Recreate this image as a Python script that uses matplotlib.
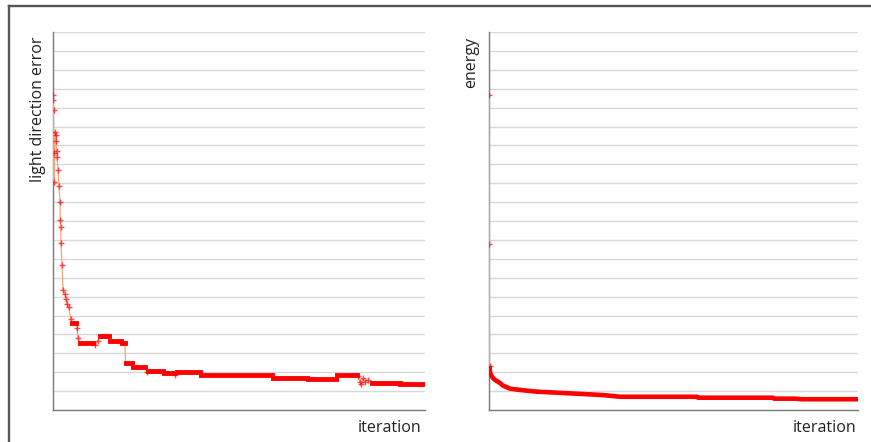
# light direction error / energy vs iteration

import matplotlib.pyplot as plt
from matplotlib.lines import Line2D

plt.rcParams['font.family'] = ['Open Sans', 'DejaVu Sans']

# --- left panel: light direction error ---
# sparse early iterations (iteration, error)
early_it = [0, 1, 2, 3, 4, 8, 12, 13, 14, 16, 20, 24, 28, 29, 31, 32, 36, 40,
            47, 52, 56, 63, 71]
early_err = [16.67, 16.40, 15.87, 13.60, 12.06, 14.71, 14.55, 14.23, 13.70,
             13.39, 12.70, 11.85, 11.01, 10.05, 9.68, 8.84, 7.67, 6.35, 6.14,
             5.87, 5.61, 5.45, 4.81]

# flat stretches (start, end, error) with single points between them
plat_start = [76, 108, 188, 226, 274, 290, 320, 380, 442, 496, 592, 878, 1018,
              1136, 1276, 1388]
plat_end = [92, 160, 224, 272, 288, 316, 368, 440, 484, 588, 876, 1016, 1132,
            1216, 1388, 1488]
plat_err = [4.60, 3.54, 3.92, 3.65, 3.54, 2.49, 2.28, 2.06, 1.97, 2.01, 1.85,
            1.68, 1.62, 1.85, 1.43, 1.38]
# points between plateaus: (after plateau index, iteration, error)
mid_after = [0, 0, 1, 1, 6, 8, 13, 13, 13, 13, 13, 13]
mid_it = [96, 100, 168, 180, 376, 488, 1220, 1228, 1232, 1240, 1248, 1260]
mid_err = [4.34, 3.81, 3.44, 3.65, 2.01, 1.85, 1.80, 1.48, 1.38, 1.69, 1.48, 1.59]

# --- right panel: energy ---
energy_it = [0, 1, 2, 4, 8, 16, 24, 44, 56, 84, 124, 192, 324, 456, 524, 832,
             836, 1136, 1140, 1224, 1252, 1476]
energy = [16.67, 8.78, 2.33, 2.01, 1.85, 1.69, 1.59, 1.43, 1.29, 1.13, 1.06,
          0.97, 0.88, 0.79, 0.70, 0.70, 0.65, 0.65, 0.60, 0.60, 0.57, 0.57]

W, H = 871, 442
fig = plt.figure(figsize=(W / 100, H / 100), dpi=100)

thin_col = '#f5a27a'
red = '#ff0000'
grid_col = '#d8d8d8'


def setup(ax, xmax):
    ax.set_xlim(0, xmax)
    ax.set_ylim(0, 20)
    ax.set_yticks(range(1, 21))
    ax.set_xticks([])
    ax.tick_params(left=False, labelleft=False)
    ax.grid(axis='y', color=grid_col, linewidth=1.0)
    ax.set_axisbelow(True)
    for s in ['top', 'right']:
        ax.spines[s].set_visible(False)
    for s in ['left', 'bottom']:
        ax.spines[s].set_color('#7a7a7a')
        ax.spines[s].set_linewidth(1.0)


ax1 = fig.add_axes([53 / W, 1 - 410 / H, 372 / W, 378 / H])
setup(ax1, 1488)

# build the full path
path_x = list(early_it)
path_y = list(early_err)
for i in range(len(plat_start)):
    path_x += [plat_start[i], plat_end[i]]
    path_y += [plat_err[i], plat_err[i]]
    for j in range(len(mid_it)):
        if mid_after[j] == i:
            path_x.append(mid_it[j])
            path_y.append(mid_err[j])
ax1.plot(path_x, path_y, color=thin_col, lw=0.9, zorder=3)
ax1.hlines(plat_err, plat_start, plat_end, color=red, lw=3.5, zorder=4,
           capstyle='projecting')
ax1.plot(early_it + mid_it, early_err + mid_err, ls='none', marker='+',
         ms=4, mew=1.0, color=red, alpha=0.7, zorder=5)

ax2 = fig.add_axes([489 / W, 1 - 410 / H, 369 / W, 378 / H])
setup(ax2, 1476)
ax2.plot(energy_it[:3], energy[:3], color=thin_col, lw=0.9, zorder=3)
ax2.plot(energy_it[2:], energy[2:], color=red, lw=3.3, zorder=4,
         solid_capstyle='butt')
ax2.plot(energy_it[:3], energy[:3], ls='none', marker='+', ms=4, mew=1.0,
         color=red, alpha=0.7, zorder=5)

# labels
fs = 11.5
fig.text(38.5 / W, 1 - 37 / H, 'light direction error', rotation=90,
         ha='center', va='top', fontsize=fs, color='#222222')
fig.text(471 / W, 1 - 37 / H, 'energy', rotation=90,
         ha='center', va='top', fontsize=fs, color='#222222')
fig.text(421 / W, 1 - 432 / H, 'iteration', ha='right', va='baseline',
         fontsize=fs, color='#222222')
fig.text(856 / W, 1 - 432 / H, 'iteration', ha='right', va='baseline',
         fontsize=fs, color='#222222')

# outer frame (top and left edges)
fig.add_artist(Line2D([8.5 / W, 1.0], [1 - 5.5 / H, 1 - 5.5 / H],
                      transform=fig.transFigure, color='#555555', lw=1.7))
fig.add_artist(Line2D([8.5 / W, 8.5 / W], [0, 1 - 5.5 / H],
                      transform=fig.transFigure, color='#555555', lw=1.7))

fig.savefig('out.png', dpi=100)
